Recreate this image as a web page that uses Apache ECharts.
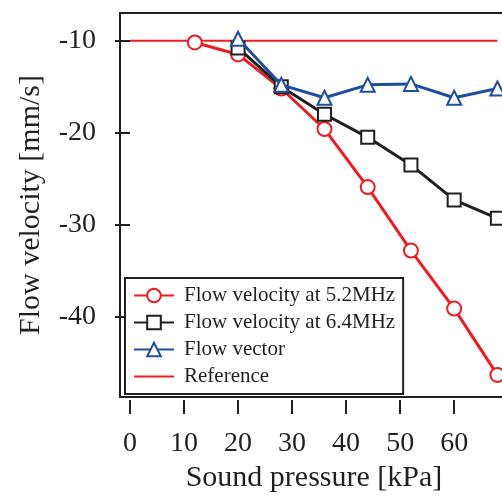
<!DOCTYPE html>
<html>
<head>
<meta charset="utf-8">
<script src="https://cdn.jsdelivr.net/npm/echarts@6/dist/echarts.min.js"></script>
<style>
  html, body { margin: 0; padding: 0; background: #fff; }
  #chart { width: 502px; height: 496px; }
</style>
</head>
<body>
<div id="chart"></div>
<script>
// sound pressure [kPa]
var pressure = [12, 20, 28, 36, 44, 52, 60, 68];
// flow velocity [mm/s]
var vel52 = [-10.2, -11.5, -15.2, -19.6, -25.9, -32.8, -39.1, -46.3];
var vel64 = [null, -10.8, -15.0, -18.0, -20.5, -23.5, -27.3, -29.3];
var vector = [null, -9.8, -14.8, -16.2, -14.8, -14.7, -16.2, -15.2];
var refX = [0, 68];
var refY = [-10, -10];
var xTicks = [0, 10, 20, 30, 40, 50, 60];
var yTicks = [-10, -20, -30, -40];

var pairs = function (xs, ys) {
    var out = [];
    for (var i = 0; i < xs.length; i++) {
        if (ys[i] !== null) out.push([xs[i], ys[i]]);
    }
    return out;
};

var ink = '#231f20';
var font = 'Liberation Serif';

var chart = echarts.init(document.getElementById('chart'));
var option = {
    animation: false,
    textStyle: { fontFamily: font, color: ink },
    grid: {
        left: 120, top: 13, width: 399, height: 384,
        outerBoundsMode: 'none',
        containLabel: false,
        show: true, borderColor: ink, borderWidth: 2, backgroundColor: 'transparent'
    },
    legend: {
        left: 125, top: 278,
        orient: 'vertical',
        selectedMode: false,
        backgroundColor: '#fff',
        borderColor: ink, borderWidth: 2,
        padding: [7, 8, 7, 8],
        itemWidth: 40, itemHeight: 17, itemGap: 6,
        textStyle: { fontFamily: font, fontSize: 21, color: ink, padding: [0, 0, 0, 5] },
        data: [
            'Flow velocity at 5.2MHz',
            'Flow velocity at 6.4MHz',
            'Flow vector',
            { name: 'Reference', itemStyle: { opacity: 0 } }
        ]
    },
    xAxis: {
        type: 'value',
        min: -1.85, max: 72,
        offset: 3,
        name: 'Sound pressure [kPa]',
        nameLocation: 'middle',
        nameGap: 63,
        nameTextStyle: { fontFamily: font, fontSize: 30, color: ink, padding: [0, 11, 0, 0] },
        axisLine: { show: false },
        axisTick: { show: true, inside: false, length: 14, lineStyle: { color: ink, width: 2 }, customValues: xTicks },
        axisLabel: { fontFamily: font, fontSize: 28, color: ink, margin: 30, customValues: xTicks },
        splitLine: { show: false }
    },
    yAxis: {
        type: 'value',
        min: -48.7, max: -7,
        name: 'Flow velocity [mm/s]',
        nameLocation: 'middle',
        nameGap: 74,
        nameTextStyle: { fontFamily: font, fontSize: 30, color: ink },
        axisLine: { show: false },
        axisTick: { show: true, inside: false, length: 15, lineStyle: { color: ink, width: 2 }, customValues: yTicks },
        axisLabel: { fontFamily: font, fontSize: 28, color: ink, margin: 24, customValues: yTicks },
        splitLine: { show: false }
    },
    series: [
        {
            name: 'Reference',
            type: 'line',
            data: pairs(refX, refY),
            symbol: 'none',
            lineStyle: { color: '#ed1c24', width: 2 },
            itemStyle: { color: '#ed1c24' },
            z: 1
        },
        {
            name: 'Flow velocity at 5.2MHz',
            type: 'line',
            data: pairs(pressure, vel52),
            symbol: 'circle', symbolSize: 14,
            lineStyle: { color: '#ed1c24', width: 3 },
            itemStyle: { color: '#fff', borderColor: '#ed1c24', borderWidth: 2 },
            z: 2
        },
        {
            name: 'Flow velocity at 6.4MHz',
            type: 'line',
            data: pairs(pressure, vel64),
            symbol: 'rect', symbolSize: 13,
            lineStyle: { color: ink, width: 3 },
            itemStyle: { color: '#fff', borderColor: ink, borderWidth: 2 },
            z: 3
        },
        {
            name: 'Flow vector',
            type: 'line',
            data: pairs(pressure, vector),
            symbol: 'triangle', symbolSize: 14,
            lineStyle: { color: '#1f4e9e', width: 3 },
            itemStyle: { color: '#fff', borderColor: '#1f4e9e', borderWidth: 2 },
            z: 4
        }
    ]
};
chart.setOption(option);
</script>
</body>
</html>
